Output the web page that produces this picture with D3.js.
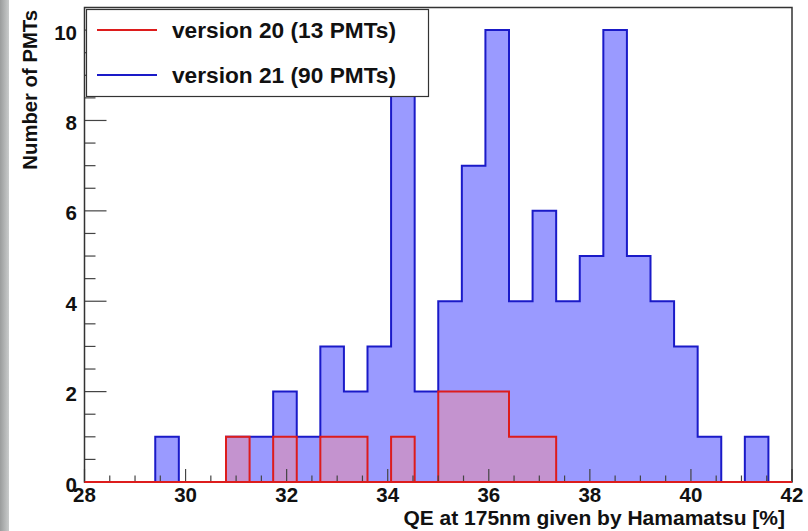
<!DOCTYPE html>
<html>
<head>
<meta charset="utf-8">
<script src="https://cdn.jsdelivr.net/npm/d3@7"></script>
<style>
  body { margin: 0; background: #fff; }
  svg { display: block; }
  text { font-family: "Liberation Sans", Arial, sans-serif; font-weight: bold; fill: #111; }
</style>
</head>
<body>
<div id="chart"></div>
<script>
// histogram definition: 30 bins from 28 to 42
const xMin = 28, xMax = 42, nBins = 30;

// counts per bin
const v20Counts = [0,0,0,0,0,0,1,0,1,0,1,1,0,1,0,2,2,2,1,1,0,0,0,0,0,0,0,0,0,0];
const v21Counts = [0,0,0,1,0,0,1,1,2,1,3,2,3,10,2,4,7,10,4,6,4,5,10,5,4,3,1,0,1,0];

const xTicks = [28, 30, 32, 34, 36, 38, 40, 42];
const yTicks = [0, 2, 4, 6, 8, 10];

const legendItems = [
  { label: "version 20 (13 PMTs)", color: "#dd1c1c" },
  { label: "version 21 (90 PMTs)", color: "#1a1ac8" }
];

const width = 808, height = 531;
const plot = { left: 84.5, right: 792, top: 7.5, bottom: 482 };

const svg = d3.select("#chart").append("svg")
  .attr("width", width)
  .attr("height", height);

// grey strip on the far left (photo background)
const grad = svg.append("defs").append("linearGradient")
  .attr("id", "bg").attr("x1", 0).attr("x2", 1).attr("y1", 0).attr("y2", 0);
grad.append("stop").attr("offset", "0%").attr("stop-color", "#9a9c9c");
grad.append("stop").attr("offset", "100%").attr("stop-color", "#c9cbcb");
svg.append("rect").attr("x", 0).attr("y", 0).attr("width", 9).attr("height", height).attr("fill", "url(#bg)");

const xScale = d3.scaleLinear().domain([xMin, xMax]).range([plot.left, plot.right]);
const yScale = d3.scaleLinear().domain([0, 10.5]).range([plot.bottom, plot.top]);

const binW = (xMax - xMin) / nBins;

function stepPoints(counts) {
  const pts = [[xMin, 0]];
  counts.forEach((c, i) => {
    pts.push([xMin + i * binW, c]);
    pts.push([xMin + (i + 1) * binW, c]);
  });
  pts.push([xMax, 0]);
  return pts;
}

const line = d3.line().x(d => xScale(d[0])).y(d => yScale(d[1]));

// version 21
svg.append("path")
  .attr("d", line(stepPoints(v21Counts)) + "Z")
  .attr("fill", "#9a9aff")
  .attr("stroke", "#1a1ac8")
  .attr("stroke-width", 2);

// version 20
svg.append("path")
  .attr("d", line(stepPoints(v20Counts)) + "Z")
  .attr("fill", "rgba(238,140,160,0.5)")
  .attr("stroke", "#dd1c1c")
  .attr("stroke-width", 2);

// ticks (inside, ROOT style)
const tickColor = "#444";
const xMinor = d3.range(xMin, xMax + 0.001, 0.5);
svg.append("g").selectAll("line")
  .data(xMinor)
  .enter().append("line")
  .attr("x1", d => xScale(d)).attr("x2", d => xScale(d))
  .attr("y1", plot.bottom)
  .attr("y2", d => plot.bottom - (d % 2 === 0 ? 13 : 6.5))
  .attr("stroke", tickColor).attr("stroke-width", 1.2);

const yMinor = d3.range(0, 10.01, 0.5);
svg.append("g").selectAll("line")
  .data(yMinor)
  .enter().append("line")
  .attr("y1", d => yScale(d)).attr("y2", d => yScale(d))
  .attr("x1", plot.left)
  .attr("x2", d => plot.left + (d % 2 === 0 ? 22 : 11))
  .attr("stroke", tickColor).attr("stroke-width", 1.2);

// frame
svg.append("rect")
  .attr("x", plot.left).attr("y", plot.top)
  .attr("width", plot.right - plot.left).attr("height", plot.bottom - plot.top)
  .attr("fill", "none").attr("stroke", "#333").attr("stroke-width", 1.5);

// redraw red baseline on top of the frame bottom
svg.append("line")
  .attr("x1", plot.left).attr("x2", plot.right)
  .attr("y1", plot.bottom).attr("y2", plot.bottom)
  .attr("stroke", "#dd1c1c").attr("stroke-width", 2);

// tick labels
svg.append("g").selectAll("text")
  .data(xTicks)
  .enter().append("text")
  .attr("x", d => xScale(d))
  .attr("y", 502)
  .attr("text-anchor", "middle")
  .attr("font-size", "20.5px")
  .text(d => d);

svg.append("g").selectAll("text")
  .data(yTicks)
  .enter().append("text")
  .attr("x", 77)
  .attr("y", d => yScale(d) + 2)
  .attr("text-anchor", "end")
  .attr("dominant-baseline", "central")
  .attr("font-size", "20.5px")
  .text(d => d);

// axis titles
svg.append("text")
  .attr("x", 785).attr("y", 525)
  .attr("text-anchor", "end")
  .attr("font-size", "21px")
  .text("QE at 175nm given by Hamamatsu [%]");

svg.append("text")
  .attr("transform", "translate(37,10) rotate(-90)")
  .attr("text-anchor", "end")
  .attr("font-size", "20.3px")
  .text("Number of PMTs");

// legend
const legend = svg.append("g");
legend.append("rect")
  .attr("x", 86.5).attr("y", 9.5).attr("width", 342).attr("height", 87)
  .attr("fill", "#fff").attr("stroke", "#333").attr("stroke-width", 1.2);

const rows = legend.selectAll("g.row")
  .data(legendItems)
  .enter().append("g")
  .attr("class", "row")
  .attr("transform", (d, i) => `translate(0, ${30 + i * 45})`);

rows.append("line")
  .attr("x1", 97).attr("x2", 157).attr("y1", 0).attr("y2", 0)
  .attr("stroke", d => d.color).attr("stroke-width", 2);

rows.append("text")
  .attr("x", 172).attr("y", 0)
  .attr("dominant-baseline", "central")
  .attr("font-size", "22.7px")
  .text(d => d.label);
</script>
</body>
</html>
